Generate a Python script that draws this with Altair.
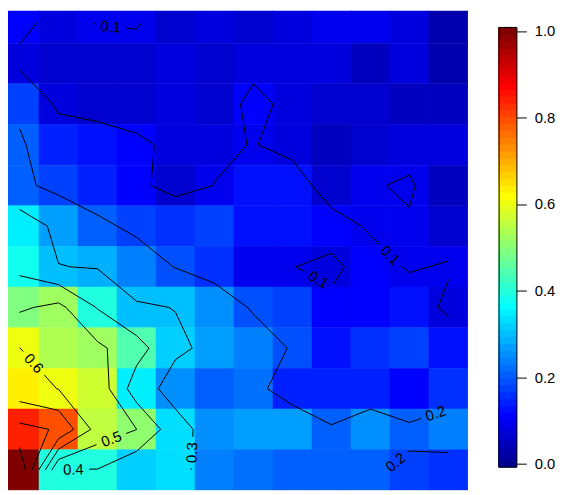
import math
import altair as alt
import numpy as np
import pandas as pd

# ---- field values, one list per row of the image, top row first (12 x 12) ----
row01 = [0.116, 0.080, 0.102, 0.104, 0.075, 0.085, 0.072, 0.085, 0.095, 0.095, 0.085, 0.040]
row02 = [0.085, 0.075, 0.075, 0.078, 0.080, 0.065, 0.085, 0.085, 0.085, 0.050, 0.085, 0.040]
row03 = [0.185, 0.085, 0.070, 0.075, 0.080, 0.070, 0.115, 0.085, 0.070, 0.065, 0.055, 0.055]
row04 = [0.210, 0.150, 0.140, 0.110, 0.088, 0.090, 0.102, 0.085, 0.050, 0.075, 0.080, 0.085]
row05 = [0.218, 0.176, 0.155, 0.115, 0.075, 0.101, 0.125, 0.125, 0.075, 0.095, 0.107, 0.060]
row06 = [0.357, 0.277, 0.217, 0.183, 0.165, 0.185, 0.135, 0.135, 0.120, 0.094, 0.094, 0.070]
row07 = [0.376, 0.302, 0.295, 0.245, 0.197, 0.166, 0.108, 0.101, 0.090, 0.120, 0.095, 0.105]
row08 = [0.486, 0.525, 0.395, 0.310, 0.298, 0.250, 0.191, 0.185, 0.110, 0.110, 0.130, 0.089]
row09 = [0.601, 0.534, 0.520, 0.440, 0.315, 0.280, 0.245, 0.193, 0.137, 0.160, 0.185, 0.137]
row10 = [0.640, 0.598, 0.565, 0.348, 0.262, 0.210, 0.230, 0.146, 0.146, 0.146, 0.117, 0.160]
row11 = [0.830, 0.790, 0.560, 0.501, 0.338, 0.254, 0.280, 0.280, 0.207, 0.254, 0.217, 0.240]
row12 = [0.990, 0.398, 0.396, 0.314, 0.340, 0.240, 0.220, 0.210, 0.210, 0.210, 0.185, 0.170]

contour_levels = [0.1, 0.2, 0.3, 0.4, 0.5, 0.6, 0.7, 0.8, 0.9]
# where each contour label sits (approximately, in cell units)
label_levels = [0.1, 0.1, 0.1, 0.2, 0.2, 0.3, 0.4, 0.5, 0.6]
label_cols = [2.84, 9.97, 8.12, 11.16, 10.17, 4.90, 1.88, 2.87, 0.86]
label_rows = [0.58, 6.25, 6.89, 10.07, 11.34, 11.07, 11.48, 10.78, 8.88]
bar_ticks = [0.0, 0.2, 0.4, 0.6, 0.8, 1.0]

Z = np.array([row01, row02, row03, row04, row05, row06,
              row07, row08, row09, row10, row11, row12])
NR, NC = Z.shape
CELL_W, CELL_H = 39.42, 41.1      # pixel size of one cell (for label geometry)
PLOT_W, PLOT_H = 465, 485
X_LO = 12 - PLOT_W / CELL_W       # the image is cut at its left/top edge
Y_LO = 12 - PLOT_H / CELL_H
GAP = 16                          # half-width of the break in a line under its label


def jet_colors(m=64):
    n = m // 4
    u = np.concatenate([np.arange(1, n + 1) / n, np.ones(n - 1), np.arange(n, 0, -1) / n])
    g = int(math.ceil(n / 2)) + np.arange(1, len(u) + 1)
    r = g + n
    b = g - n
    R, G, B = np.zeros(m), np.zeros(m), np.zeros(m)
    for k in range(len(u)):
        if 1 <= r[k] <= m:
            R[r[k] - 1] = u[k]
        if 1 <= g[k] <= m:
            G[g[k] - 1] = u[k]
        if 1 <= b[k] <= m:
            B[b[k] - 1] = u[k]
    return ["#%02x%02x%02x" % (int(round(R[i] * 255)), int(round(G[i] * 255)), int(round(B[i] * 255)))
            for i in range(m)]


JET = jet_colors(64)


def march(Zm, lev):
    segs = []
    for j in range(NR - 1):
        for i in range(NC - 1):
            za, zb, zc, zd = Zm[j, i], Zm[j, i + 1], Zm[j + 1, i + 1], Zm[j + 1, i]
            xa, ya = i + 0.5, j + 0.5
            pts = {}
            if (za >= lev) != (zb >= lev):
                pts['t'] = (xa + (lev - za) / (zb - za), ya)
            if (zb >= lev) != (zc >= lev):
                pts['r'] = (xa + 1, ya + (lev - zb) / (zc - zb))
            if (zd >= lev) != (zc >= lev):
                pts['b'] = (xa + (lev - zd) / (zc - zd), ya + 1)
            if (za >= lev) != (zd >= lev):
                pts['l'] = (xa, ya + (lev - za) / (zd - za))
            if len(pts) == 2:
                p = list(pts.values())
                segs.append((p[0], p[1]))
            elif len(pts) == 4:
                centre = (za + zb + zc + zd) / 4
                if (centre >= lev) == (za >= lev):
                    segs.append((pts['t'], pts['r']))
                    segs.append((pts['b'], pts['l']))
                else:
                    segs.append((pts['l'], pts['t']))
                    segs.append((pts['r'], pts['b']))
    return segs


def px(p):
    return (p[0] * CELL_W, p[1] * CELL_H)


def unpx(p):
    return (p[0] / CELL_W, p[1] / CELL_H)


def cut(seg, c, rad):
    a, b = px(seg[0]), px(seg[1])
    dx, dy = b[0] - a[0], b[1] - a[1]
    fx, fy = a[0] - c[0], a[1] - c[1]
    A = dx * dx + dy * dy
    B = 2 * (fx * dx + fy * dy)
    C = fx * fx + fy * fy - rad * rad
    disc = B * B - 4 * A * C
    if A == 0 or disc <= 0:
        return [seg]
    s = math.sqrt(disc)
    t1, t2 = (-B - s) / (2 * A), (-B + s) / (2 * A)
    if t2 <= 0 or t1 >= 1:
        return [seg]
    out = []
    if t1 > 0:
        out.append((seg[0], unpx((a[0] + t1 * dx, a[1] + t1 * dy))))
    if t2 < 1:
        out.append((unpx((a[0] + t2 * dx, a[1] + t2 * dy)), seg[1]))
    return out


segs_by_level = {lev: march(Z, lev) for lev in contour_levels}

label_rows_out = []
for lev, lc, lr in zip(label_levels, label_cols, label_rows):
    target = (lc * CELL_W, lr * CELL_H)
    best = None
    for seg in segs_by_level[lev]:
        a, b = px(seg[0]), px(seg[1])
        dx, dy = b[0] - a[0], b[1] - a[1]
        L = dx * dx + dy * dy
        t = 0 if L == 0 else max(0, min(1, ((target[0] - a[0]) * dx + (target[1] - a[1]) * dy) / L))
        q = (a[0] + t * dx, a[1] + t * dy)
        d = (q[0] - target[0]) ** 2 + (q[1] - target[1]) ** 2
        if best is None or d < best[0]:
            best = (d, q, dx, dy)
    _, q, dx, dy = best
    ang = math.degrees(math.atan2(dy, dx))
    if ang >= 90:
        ang -= 180
    if ang < -90:
        ang += 180
    new = []
    for seg in segs_by_level[lev]:
        new.extend(cut(seg, q, GAP))
    segs_by_level[lev] = new
    qx, qy = unpx(q)
    label_rows_out.append({"x": qx, "y": qy, "text": f"{lev:.1f}", "angle": ang % 360})

cells = pd.DataFrame([{"x0": i, "x1": i + 1, "y0": j, "y1": j + 1, "v": float(Z[j, i])}
                      for j in range(NR) for i in range(NC)])
segdf = pd.DataFrame([{"x": s[0][0], "y": s[0][1], "x2": s[1][0], "y2": s[1][1]}
                      for lev in contour_levels for s in segs_by_level[lev]])
labdf = pd.DataFrame(label_rows_out)

xs = alt.Scale(domain=[X_LO, 12], nice=False, zero=False)
ys = alt.Scale(domain=[Y_LO, 12], nice=False, zero=False, reverse=True)
cscale = alt.Scale(type="quantize", domain=[0, 1], range=JET)

heat = alt.Chart(cells).mark_rect(strokeWidth=0.6, clip=True).encode(
    x=alt.X("x0:Q", scale=xs, axis=None),
    x2="x1:Q",
    y=alt.Y("y0:Q", scale=ys, axis=None),
    y2="y1:Q",
    color=alt.Color("v:Q", scale=cscale, legend=None),
    stroke=alt.Stroke("v:Q", scale=cscale, legend=None),
)
lines = alt.Chart(segdf).mark_rule(color="black", strokeWidth=1, clip=True).encode(
    x=alt.X("x:Q", scale=xs, axis=None),
    y=alt.Y("y:Q", scale=ys, axis=None),
    x2="x2:Q",
    y2="y2:Q",
)
labels = alt.Chart(labdf).mark_text(font="Liberation Sans", fontSize=15, color="black",
                                    align="center", baseline="middle", clip=True).encode(
    x=alt.X("x:Q", scale=xs, axis=None),
    y=alt.Y("y:Q", scale=ys, axis=None),
    text="text:N",
    angle=alt.Angle("angle:Q", scale=None),
)
main = alt.layer(heat, lines, labels).properties(width=PLOT_W, height=PLOT_H)

# ---- colour bar ----
BAR_LO, BAR_HI = -0.008, 1.008
edges = np.linspace(BAR_LO, BAR_HI, 65)
bar_df = pd.DataFrame({"lo": edges[:-1], "hi": edges[1:], "v": (np.arange(64) + 0.5) / 64})
frame_df = pd.DataFrame({"lo": [BAR_LO], "hi": [BAR_HI]})
bscale = alt.Scale(domain=[-0.0617, 1.0469], nice=False, zero=False)

bar = alt.Chart(bar_df).mark_rect().encode(
    x=alt.value(0), x2=alt.value(18),
    y=alt.Y("lo:Q", scale=bscale,
            axis=alt.Axis(orient="right", values=bar_ticks, format=".1f", tickSize=10,
                          tickColor="black", domain=False, grid=False, labelFontSize=15,
                          labelFont="Liberation Sans", labelColor="black", labelPadding=8,
                          title=None)),
    y2="hi:Q",
    color=alt.Color("v:Q", scale=cscale, legend=None),
    stroke=alt.Stroke("v:Q", scale=cscale, legend=None),
)
frame = alt.Chart(frame_df).mark_rect(fillOpacity=0, stroke="black", strokeWidth=1).encode(
    x=alt.value(0.5), x2=alt.value(18.5),
    y=alt.Y("lo:Q", scale=bscale),
    y2="hi:Q",
)
colorbar = alt.layer(bar, frame).properties(width=18, height=PLOT_H)

chart = alt.hconcat(main, colorbar, spacing=30).properties(padding=0).configure_view(stroke=None)
chart.save("out.html", embed_options={"renderer": "svg", "actions": False})
